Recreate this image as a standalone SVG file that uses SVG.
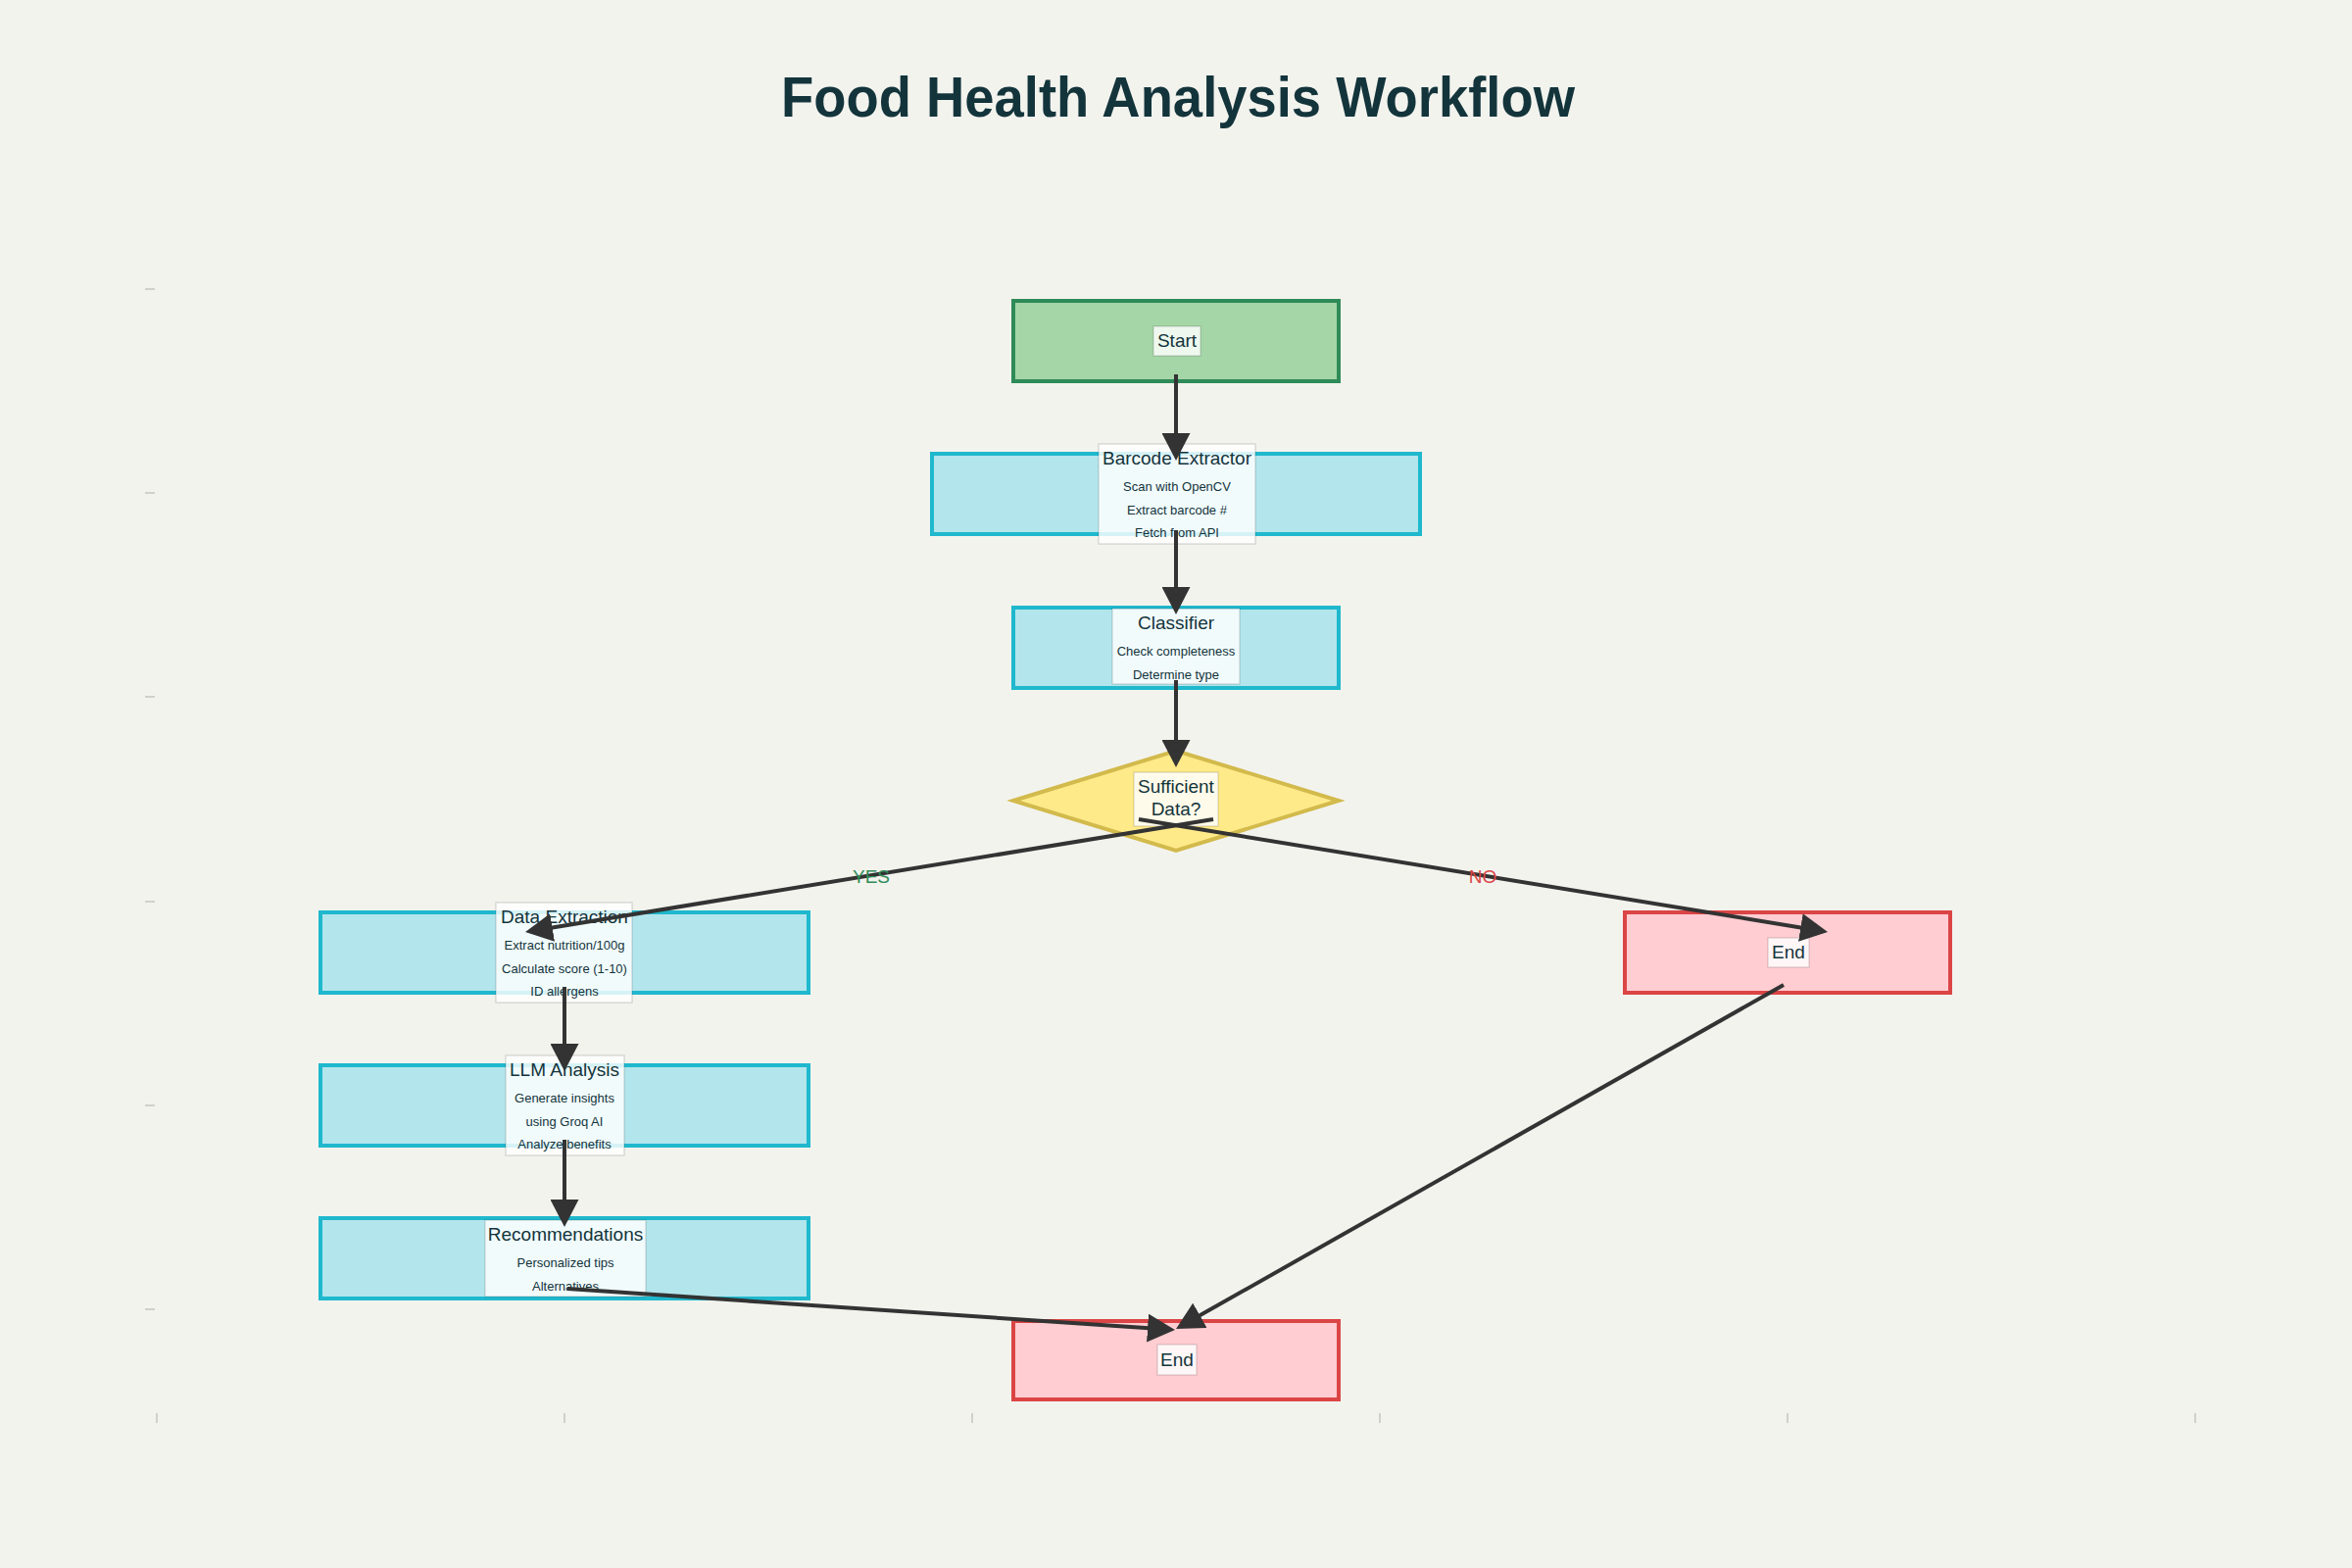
<svg xmlns="http://www.w3.org/2000/svg" width="2400" height="1600" viewBox="0 0 2400 1600">
<style>
  text { font-family: "Liberation Sans", Arial, sans-serif; fill: #13343B; }
  .title { font-size: 58px; font-weight: bold; }
  .lt { font-size: 19px; }
  .ls { font-size: 13px; }
  .lbl { fill: #FFFFFF; fill-opacity: 0.82; stroke: #000000; stroke-opacity: 0.13; stroke-width: 1.5; }
  .start { fill: #A5D6A7; stroke: #2E8B57; stroke-width: 4; }
  .proc { fill: #B3E5EC; stroke: #1FB8CD; stroke-width: 4; }
  .end { fill: #FFCDD2; stroke: #DB4545; stroke-width: 4; }
  .dec { fill: #FFEA8A; stroke: #D2BA4C; stroke-width: 4; }
  .edge { fill: none; stroke: #333333; stroke-width: 4; marker-end: url(#arr); }
  .tick { stroke: #D0D0CC; stroke-width: 2; }
</style>
<defs>
  <marker id="arr" viewBox="0 0 28 29" refX="20" refY="14.5" markerWidth="28" markerHeight="29" markerUnits="userSpaceOnUse" orient="auto">
    <path d="M0,0 L28,14.5 L0,29 Z" fill="#333333"/>
  </marker>
</defs>
<rect x="0" y="0" width="2400" height="1600" fill="#F3F3EE"/>
<text class="title" x="1202" y="119" text-anchor="middle" textLength="810" lengthAdjust="spacingAndGlyphs">Food Health Analysis Workflow</text>
<g id="axes">
  <line class="tick" x1="148" y1="295" x2="158" y2="295"/>
  <line class="tick" x1="148" y1="503" x2="158" y2="503"/>
  <line class="tick" x1="148" y1="711" x2="158" y2="711"/>
  <line class="tick" x1="148" y1="920" x2="158" y2="920"/>
  <line class="tick" x1="148" y1="1128" x2="158" y2="1128"/>
  <line class="tick" x1="148" y1="1336" x2="158" y2="1336"/>
  <line class="tick" x1="160" y1="1442" x2="160" y2="1452"/>
  <line class="tick" x1="576" y1="1442" x2="576" y2="1452"/>
  <line class="tick" x1="992" y1="1442" x2="992" y2="1452"/>
  <line class="tick" x1="1408" y1="1442" x2="1408" y2="1452"/>
  <line class="tick" x1="1824" y1="1442" x2="1824" y2="1452"/>
  <line class="tick" x1="2240" y1="1442" x2="2240" y2="1452"/>
</g>
<g id="node-start">
  <rect class="start" x="1034" y="307" width="332" height="82"/>
  <rect class="lbl" x="1177" y="333" width="48" height="30"/>
  <text class="lt" x="1201" y="354" text-anchor="middle">Start</text>
</g>
<g id="node-barcode">
  <rect class="proc" x="951" y="463" width="498" height="82"/>
  <rect class="lbl" x="1121" y="453" width="160" height="102"/>
  <text class="lt" x="1201" y="474" text-anchor="middle">Barcode Extractor</text>
  <text class="ls" x="1201" y="501" text-anchor="middle">Scan with OpenCV</text>
  <text class="ls" x="1201" y="525" text-anchor="middle">Extract barcode #</text>
  <text class="ls" x="1201" y="548" text-anchor="middle">Fetch from API</text>
</g>
<g id="node-classifier">
  <rect class="proc" x="1034" y="620" width="332" height="82"/>
  <rect class="lbl" x="1135" y="621" width="130" height="77"/>
  <text class="lt" x="1200" y="642" text-anchor="middle">Classifier</text>
  <text class="ls" x="1200" y="669" text-anchor="middle">Check completeness</text>
  <text class="ls" x="1200" y="693" text-anchor="middle">Determine type</text>
</g>
<g id="node-decision">
  <polygon class="dec" points="1034,817 1200,766 1366,817 1200,868"/>
  <rect class="lbl" x="1157" y="788" width="86" height="55"/>
  <text class="lt" x="1200" y="809" text-anchor="middle">Sufficient</text>
  <text class="lt" x="1200" y="832" text-anchor="middle">Data?</text>
</g>
<g id="node-extraction">
  <rect class="proc" x="327" y="931" width="498" height="82"/>
  <rect class="lbl" x="506" y="921" width="139" height="102"/>
  <text class="lt" x="576" y="942" text-anchor="middle">Data Extraction</text>
  <text class="ls" x="576" y="969" text-anchor="middle">Extract nutrition/100g</text>
  <text class="ls" x="576" y="993" text-anchor="middle">Calculate score (1-10)</text>
  <text class="ls" x="576" y="1016" text-anchor="middle">ID allergens</text>
</g>
<g id="node-llm">
  <rect class="proc" x="327" y="1087" width="498" height="82"/>
  <rect class="lbl" x="516" y="1077" width="121" height="102"/>
  <text class="lt" x="576" y="1098" text-anchor="middle">LLM Analysis</text>
  <text class="ls" x="576" y="1125" text-anchor="middle">Generate insights</text>
  <text class="ls" x="576" y="1149" text-anchor="middle">using Groq AI</text>
  <text class="ls" x="576" y="1172" text-anchor="middle">Analyze benefits</text>
</g>
<g id="node-recommendations">
  <rect class="proc" x="327" y="1243" width="498" height="82"/>
  <rect class="lbl" x="495" y="1245" width="164" height="78"/>
  <text class="lt" x="577" y="1266" text-anchor="middle">Recommendations</text>
  <text class="ls" x="577" y="1293" text-anchor="middle">Personalized tips</text>
  <text class="ls" x="577" y="1317" text-anchor="middle">Alternatives</text>
</g>
<g id="node-end-right">
  <rect class="end" x="1658" y="931" width="332" height="82"/>
  <rect class="lbl" x="1804" y="957" width="42" height="30"/>
  <text class="lt" x="1825" y="978" text-anchor="middle">End</text>
</g>
<g id="node-end-bottom">
  <rect class="end" x="1034" y="1348" width="332" height="80"/>
  <rect class="lbl" x="1181" y="1372" width="40" height="31"/>
  <text class="lt" x="1201" y="1394" text-anchor="middle">End</text>
</g>
<g id="connectors">
  <line class="edge" x1="1200" y1="382" x2="1200" y2="462"/>
  <line class="edge" x1="1200" y1="541" x2="1200" y2="619"/>
  <line class="edge" x1="1200" y1="694" x2="1200" y2="775"/>
  <line class="edge" x1="1238" y1="836" x2="543.9" y2="949.7"/>
  <line class="edge" x1="1162" y1="836" x2="1857.1" y2="949.7"/>
  <line class="edge" x1="576" y1="1007" x2="576" y2="1085"/>
  <line class="edge" x1="576" y1="1163" x2="576" y2="1244"/>
  <line class="edge" x1="579" y1="1315" x2="1191" y2="1356.5"/>
  <line class="edge" x1="1820" y1="1005" x2="1207" y2="1352.1"/>
  <text x="889" y="901" text-anchor="middle" style="font-size:19px;fill:#2E8B57">YES</text>
  <text x="1513" y="901" text-anchor="middle" style="font-size:19px;fill:#DB4545">NO</text>
</g>
</svg>
